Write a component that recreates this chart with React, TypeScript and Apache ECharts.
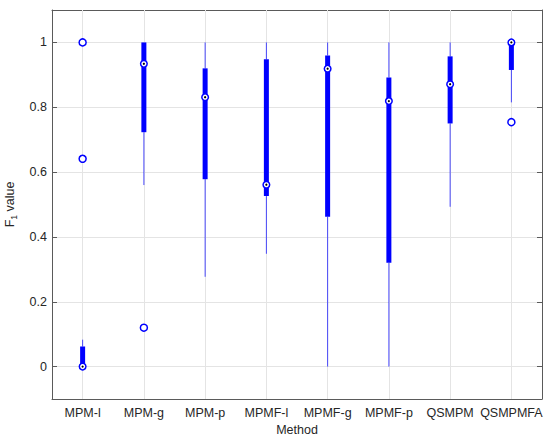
import React, { useEffect, useRef } from "react";
import * as echarts from "echarts";

const categories = ["MPM-l", "MPM-g", "MPM-p", "MPMF-l", "MPMF-g", "MPMF-p", "QSMPM", "QSMPMFA"];
const whiskerLow = [0, 0.56, 0.277, 0.348, 0, 0, 0.493, 0.815];
const q1 = [0, 0.723, 0.578, 0.526, 0.462, 0.32, 0.75, 0.915];
const medians = [0, 0.934, 0.831, 0.561, 0.919, 0.819, 0.871, 1.0];
const q3 = [0.062, 1.0, 0.92, 0.948, 0.96, 0.892, 0.957, 1.0];
const whiskerHigh = [0.083, 1.0, 1.0, 1.0, 1.0, 1.0, 1.0, 1.0];
const outliers: [number, number][] = [
  [0, 1.0],
  [0, 0.641],
  [1, 0.12],
  [7, 0.754],
];

const FONT = "'Liberation Sans', Arial, Helvetica, sans-serif";
const TXT = "#262626";
const AXIS = "#5a5a5a";
const GRID = "#e4e4e4";
const BLUE = "#0000ff";
const FS = 12.5;

export default function App() {
  const ref = useRef<HTMLDivElement>(null);
  useEffect(() => {
    if (!ref.current) return;
    const chart = echarts.init(ref.current, null, { renderer: "svg" });
    const boxData = categories.map((_, i) => [i, whiskerLow[i], q1[i], medians[i], q3[i], whiskerHigh[i]]);
    const yBase = {
      type: "value",
      min: -0.1,
      max: 1.1,
      splitNumber: 6,
      minInterval: 0.2,
      maxInterval: 0.2,
    };
    chart.setOption({
      animation: false,
      backgroundColor: "#ffffff",
      grid: { left: 52, right: 8, top: 10, bottom: 40, containLabel: false, outerBoundsMode: "none" },
      xAxis: [
        {
          type: "category",
          data: categories,
          position: "bottom",
          boundaryGap: true,
          name: "Method",
          nameLocation: "middle",
          nameGap: 24,
          nameTextStyle: { fontFamily: FONT, fontSize: FS, color: TXT },
          axisLine: { show: true, onZero: false, lineStyle: { color: AXIS, width: 1 } },
          axisTick: { show: true, inside: true, alignWithLabel: true, length: 4, lineStyle: { color: AXIS } },
          axisLabel: { fontFamily: FONT, fontSize: FS, color: TXT, margin: 7, interval: 0 },
          splitLine: { show: false },
        },
        {
          type: "category",
          data: categories,
          position: "top",
          boundaryGap: true,
          axisLine: { show: true, onZero: false, lineStyle: { color: AXIS, width: 1 } },
          axisTick: { show: true, inside: true, alignWithLabel: true, length: 4, lineStyle: { color: AXIS } },
          axisLabel: { show: false },
          splitLine: { show: false },
        },
      ],
      yAxis: [
        {
          ...yBase,
          position: "left",
          name: "{a|F}{b|1}{a| value}",
          nameLocation: "middle",
          nameGap: 32,
          nameRotate: 90,
          nameTextStyle: {
            rich: {
              a: { fontFamily: FONT, fontSize: FS, color: TXT, lineHeight: 17 },
              b: { fontFamily: FONT, fontSize: 8.5, color: TXT, lineHeight: 9, verticalAlign: "bottom" },
            },
          },
          axisLine: { show: true, onZero: false, lineStyle: { color: AXIS, width: 1 } },
          axisTick: { show: true, inside: true, length: 5, lineStyle: { color: AXIS } },
          axisLabel: { fontFamily: FONT, fontSize: FS, color: TXT, margin: 5, showMinLabel: false, showMaxLabel: false },
          splitLine: { show: true, lineStyle: { color: GRID, width: 1 } },
        },
        {
          ...yBase,
          position: "right",
          axisLine: { show: true, onZero: false, lineStyle: { color: AXIS, width: 1 } },
          axisTick: { show: true, inside: true, length: 5, lineStyle: { color: AXIS } },
          axisLabel: { show: false },
          splitLine: { show: false },
        },
      ],
      series: [
        {
          type: "line",
          data: [],
          z: 1,
          silent: true,
          markLine: {
            silent: true,
            z: 1,
            symbol: ["none", "none"],
            label: { show: false },
            lineStyle: { color: GRID, width: 1, type: "solid" },
            data: categories.map((c) => ({ xAxis: c })),
          },
        },
        {
          type: "custom",
          z: 6,
          data: boxData,
          encode: { x: 0, y: [1, 2, 3, 4, 5] },
          renderItem: (params: any, api: any) => {
            const i = api.value(0);
            const lo = api.coord([i, api.value(1)]);
            const b1 = api.coord([i, api.value(2)]);
            const md = api.coord([i, api.value(3)]);
            const b3 = api.coord([i, api.value(4)]);
            const hi = api.coord([i, api.value(5)]);
            const x = lo[0];
            return {
              type: "group",
              children: [
                {
                  type: "line",
                  shape: { x1: x, y1: lo[1], x2: x, y2: b1[1] },
                  style: { stroke: BLUE, lineWidth: 1, opacity: 0.7 },
                },
                {
                  type: "line",
                  shape: { x1: x, y1: b3[1], x2: x, y2: hi[1] },
                  style: { stroke: BLUE, lineWidth: 1, opacity: 0.7 },
                },
                {
                  type: "rect",
                  shape: { x: x - 2.5, y: b3[1], width: 5, height: Math.max(b1[1] - b3[1], 0) },
                  style: { fill: BLUE },
                },
                {
                  type: "circle",
                  shape: { cx: md[0], cy: md[1], r: 3.3 },
                  style: { fill: "#ffffff", stroke: BLUE, lineWidth: 1.5 },
                },
                {
                  type: "circle",
                  shape: { cx: md[0], cy: md[1], r: 1.1 },
                  style: { fill: "#000000" },
                },
              ],
            };
          },
        },
        {
          type: "scatter",
          z: 7,
          data: outliers,
          symbol: "circle",
          symbolSize: 7,
          itemStyle: { color: "#ffffff", borderColor: BLUE, borderWidth: 1.5, opacity: 1 },
        },
      ],
    });
    return () => chart.dispose();
  }, []);
  return <div ref={ref} style={{ position: "fixed", left: 0, top: 0, width: 550, height: 439 }} />;
}
